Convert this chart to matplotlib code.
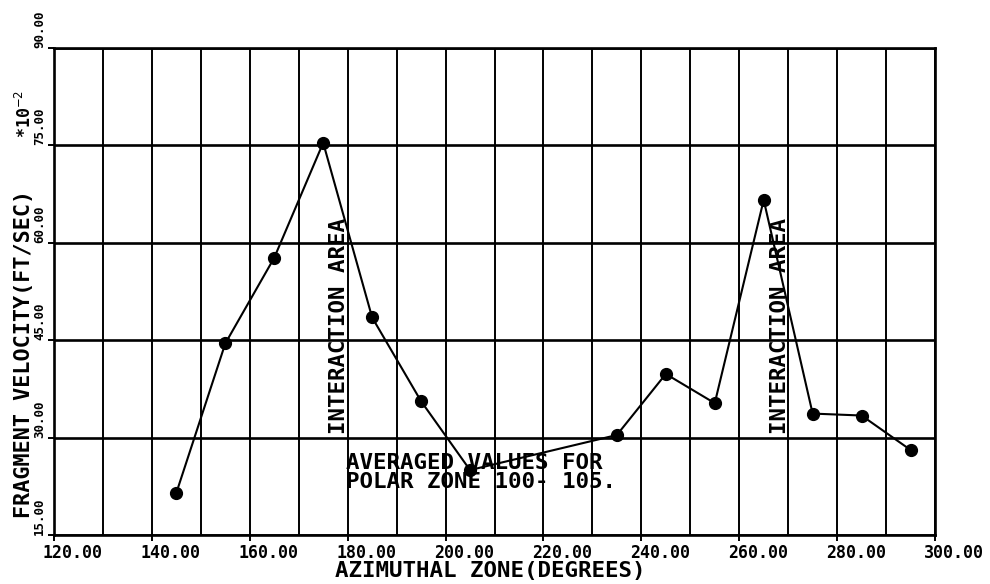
import matplotlib
matplotlib.use("Agg")
import matplotlib.pyplot as plt
from matplotlib.transforms import ScaledTranslation
import numpy as np

# -----------------------------
# Data
# -----------------------------
azimuth = [145, 155, 165, 175, 185, 195, 205, 235, 245, 255, 265, 275, 285, 295]
velocity = [21.5, 44.5, 57.7, 75.4, 48.5, 35.6, 25.0, 30.4, 39.8, 35.3, 66.6, 33.7, 33.4, 28.1]

x_ticks = [120, 140, 160, 180, 200, 220, 240, 260, 280, 300]
x_tick_labels = ["120.00", "140.00", "160.00", "180.00", "200.00",
                 "220.00", "240.00", "260.00", "280.00", "300.00"]
y_ticks = [15, 30, 45, 60, 75, 90]
y_tick_labels = ["15.00", "30.00", "45.00", "60.00", "75.00", "90.00"]

FONT = "DejaVu Sans Mono"

fig = plt.figure(figsize=(9.9, 5.84), dpi=100)
ax = fig.add_axes([54 / 990, 49 / 584, 881 / 990, 487 / 584])

ax.set_xlim(120, 300)
ax.set_ylim(15, 90)

# grid: thin verticals every 10, heavy horizontals every 15
ax.set_xticks(x_ticks)
ax.set_xticks(np.arange(130, 300, 10), minor=True)
ax.set_yticks(y_ticks)
ax.grid(True, which="both", axis="x", color="black", linewidth=1.4)
ax.grid(True, which="major", axis="y", color="black", linewidth=1.9)
ax.set_axisbelow(True)
for sp in ax.spines.values():
    sp.set_linewidth(1.9)

ax.tick_params(axis="x", which="major", direction="out", length=4, width=1.4, pad=2.6)
ax.tick_params(axis="y", which="major", direction="out", length=4, width=1.4, pad=3.7)
ax.tick_params(axis="x", which="minor", length=0)

ax.set_xticklabels(x_tick_labels, fontfamily=FONT, fontweight="bold", fontsize=12)
ax.set_yticklabels(y_tick_labels, fontfamily=FONT, fontweight="bold", fontsize=9)

shift_x = ScaledTranslation(-11 / 100, 0, fig.dpi_scale_trans)
for lab in ax.get_xticklabels():
    lab.set_horizontalalignment("left")
    lab.set_verticalalignment("top")
    lab.set_transform(lab.get_transform() + shift_x)
for lab in ax.get_yticklabels():
    lab.set_rotation(90)
    lab.set_rotation_mode("anchor")
    lab.set_horizontalalignment("left")
    lab.set_verticalalignment("baseline")

# data
ax.plot(azimuth, velocity, color="black", linewidth=1.5, marker="o",
        markersize=8.5, markerfacecolor="black", zorder=3)

# annotations
txt = dict(fontfamily=FONT, fontweight="bold", fontsize=16.2, color="black")
ax.text(179.5, 30.6, "INTERACTION AREA", rotation=90, rotation_mode="anchor",
        ha="left", va="baseline", **txt)
ax.text(269.6, 30.6, "INTERACTION AREA", rotation=90, rotation_mode="anchor",
        ha="left", va="baseline", **txt)
ax.text(179.7, 25.2, "AVERAGED VALUES FOR", ha="left", va="baseline", **txt)
ax.text(179.7, 22.2, "POLAR ZONE 100- 105.", ha="left", va="baseline", **txt)

# axis titles
fig.text(335 / 990, (584 - 577) / 584, "AZIMUTHAL ZONE(DEGREES)", ha="left",
         va="baseline", **txt)
fig.text(30 / 990, (584 - 518) / 584, "FRAGMENT VELOCITY(FT/SEC)", rotation=90,
         rotation_mode="anchor", ha="left", va="baseline",
         fontfamily=FONT, fontweight="bold", fontsize=15.7)
fig.text(31 / 990, (584 - 138) / 584, "*10$^{-2}$", rotation=90,
         rotation_mode="anchor", ha="left", va="baseline",
         fontfamily=FONT, fontweight="bold", fontsize=12)

fig.savefig("out.png", dpi=100)
